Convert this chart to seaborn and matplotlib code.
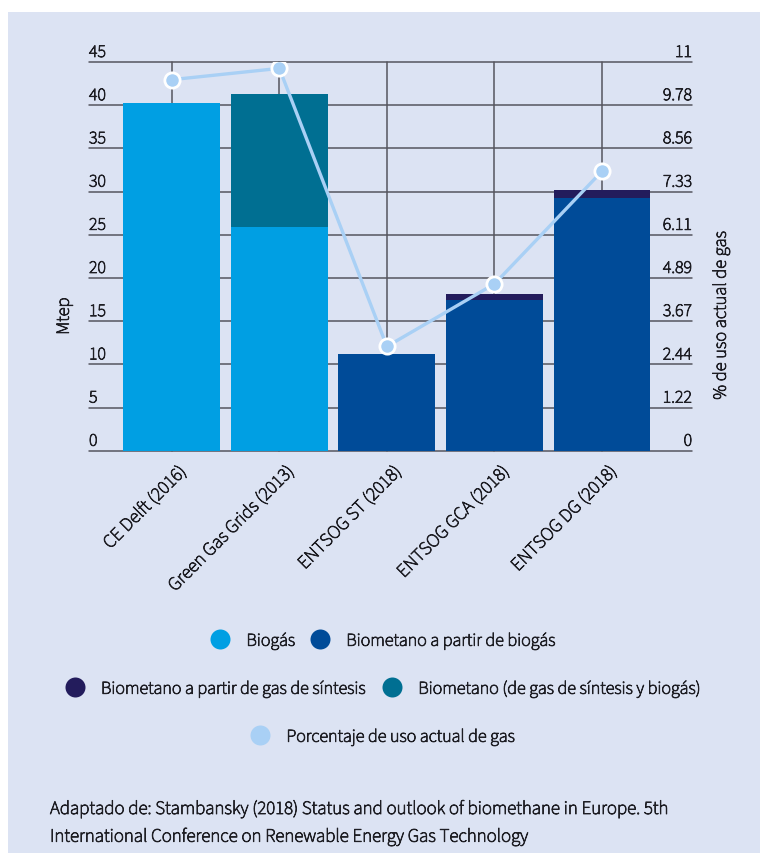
import numpy as np
import pandas as pd
import matplotlib
matplotlib.use("Agg")
import matplotlib.pyplot as plt
import matplotlib.transforms as mtransforms
import matplotlib.patheffects as pe
from matplotlib.lines import Line2D
from matplotlib.patches import Rectangle
import seaborn as sns

# ---- data -------------------------------------------------------------
escenarios = ["CE Delft (2016)", "Green Gas Grids (2013)", "ENTSOG ST (2018)",
              "ENTSOG GCA (2018)", "ENTSOG DG (2018)"]
biogas = [40.2, 25.9, 0.0, 0.0, 0.0]
biometano_biogas = [0.0, 0.0, 11.2, 17.4, 29.3]
biometano_sintesis = [0.0, 0.0, 0.0, 0.75, 0.9]
biometano_mixto = [0.0, 15.45, 0.0, 0.0, 0.0]
porcentaje_uso = [10.5, 10.82, 2.95, 4.72, 7.91]

mtep_ticks = [0, 5, 10, 15, 20, 25, 30, 35, 40, 45]
pct_tick_labels = ["0", "1.22", "2.44", "3.67", "4.89", "6.11", "7.33", "8.56", "9.78", "11"]

series_names = ["Biogás", "Biometano a partir de biogás",
                "Biometano a partir de gas de síntesis",
                "Biometano (de gas de síntesis y biogás)"]
line_name = "Porcentaje de uso actual de gas"

# ---- style ------------------------------------------------------------
C_BIOGAS = "#009fe3"
C_BIOMET = "#004b98"
C_SINT = "#231c5c"
C_MIXTO = "#006f92"
C_LINE = "#a9d0f5"
BG = "#dce3f3"
GRID = "#55555f"
TXT = "#1e1e24"

sns.set_theme(style="white")
plt.rcParams["font.family"] = ["Source Sans 3", "Lato", "DejaVu Sans"]
plt.rcParams["text.color"] = TXT

# slightly heavier strokes for the text
BOLDEN = [pe.withStroke(linewidth=0.6, foreground=TXT)]

W, H = 760, 855
fig = plt.figure(figsize=(W / 100, H / 100), dpi=100)
fig.patch.set_facecolor("white")
fig.add_artist(Rectangle((8 / W, 2 / H), 1 - 8 / W, (H - 14) / H,
                         transform=fig.transFigure, facecolor=BG,
                         edgecolor="none", zorder=-10))

ax = fig.add_axes([89 / W, 404.3 / H, 603 / W, 388.7 / H])
ax.set_facecolor("none")

# ---- stacked bars (drawn as cumulative heights, tallest first) --------
df = pd.DataFrame({"escenario": escenarios,
                   "Biogás": biogas,
                   "Biometano a partir de biogás": biometano_biogas,
                   "Biometano a partir de gas de síntesis": biometano_sintesis,
                   "Biometano (de gas de síntesis y biogás)": biometano_mixto})
cum = df[series_names].cumsum(axis=1)
colors = [C_BIOGAS, C_BIOMET, C_SINT, C_MIXTO]
for name, col in reversed(list(zip(series_names, colors))):
    sns.barplot(x=df["escenario"], y=cum[name], color=col, saturation=1,
                width=0.9, errorbar=None, linewidth=0, ax=ax, zorder=2)

ax.set_ylim(0, 45)
ax.set_yticks(mtep_ticks)
ax.set_yticklabels([])
ax.set_xticks(range(len(escenarios)))
ax.set_xticklabels([])
ax.set_xlabel("")
ax.set_ylabel("")
ax.grid(True, axis="both", color=GRID, linewidth=1.1)
ax.set_axisbelow(True)
for gl in ax.get_xgridlines() + ax.get_ygridlines():
    gl.set_clip_on(False)
for s in ax.spines.values():
    s.set_visible(False)
ax.tick_params(axis="y", length=0)
ax.tick_params(axis="x", length=3, color=GRID, width=1)

# ---- line on secondary axis -------------------------------------------
ax2 = ax.twinx()
sns.lineplot(x=np.arange(len(escenarios)), y=porcentaje_uso, ax=ax2,
             color=C_LINE, linewidth=2.4, marker="o", markersize=11,
             markerfacecolor=C_LINE, markeredgecolor="white",
             markeredgewidth=2.0, zorder=5)
ax2.set_ylim(0, 11)
ax2.set_yticks([])
ax2.set_ylabel("")
ax2.set_xlabel("")
for s in ax2.spines.values():
    s.set_visible(False)
ax.set_xlim(-0.769, 4.836)

# ---- tick labels above the gridlines ----------------------------------
fs = 12.9
left_tr = mtransforms.offset_copy(
    mtransforms.blended_transform_factory(ax.transAxes, ax.transData),
    fig=fig, x=0, y=5, units="dots")
for v in mtep_ticks:
    ax.text(0, v, str(v), transform=left_tr, ha="left", va="baseline",
            fontsize=fs, color=TXT, path_effects=BOLDEN)
right_tr = mtransforms.offset_copy(
    mtransforms.blended_transform_factory(ax2.transAxes, ax2.transData),
    fig=fig, x=0, y=5, units="dots")
for lab in pct_tick_labels:
    ax2.text(1, float(lab), lab, transform=right_tr, ha="right", va="baseline",
             fontsize=fs, color=TXT, path_effects=BOLDEN)

xfs = 13.6
cat_tr = mtransforms.offset_copy(
    mtransforms.blended_transform_factory(ax.transData, ax.transAxes),
    fig=fig, x=6, y=-12, units="dots")
for i, lab in enumerate(escenarios):
    ax.text(i, 0, lab, transform=cat_tr, ha="right", va="top", rotation=45,
            rotation_mode="anchor", fontsize=xfs, color=TXT, path_effects=BOLDEN)

fig.text(64 / W, 1 - 316 / H, "Mtep", rotation=90, ha="center", va="center",
         fontsize=13.3, color=TXT, path_effects=BOLDEN)
fig.text(721 / W, 1 - 315 / H, "% de uso actual de gas", rotation=90,
         ha="center", va="center", fontsize=13.3, color=TXT, path_effects=BOLDEN)

# ---- legend -------------------------------------------------------------
lfs = 13


def handle(c):
    return Line2D([], [], linestyle="none", marker="o", markersize=14.4,
                  markerfacecolor=c, markeredgecolor="none")


rows = [
    ([handle(C_BIOGAS), handle(C_BIOMET)], series_names[:2], 641),
    ([handle(C_SINT), handle(C_MIXTO)], series_names[2:], 689),
    ([handle(C_LINE)], [line_name], 737),
]
for hs, ls, yc in rows:
    leg = fig.legend(hs, ls, loc="center", bbox_to_anchor=(384 / W, 1 - yc / H),
                     ncol=len(hs), frameon=False, handlelength=1.0,
                     handletextpad=0.94, columnspacing=0.89, fontsize=lfs,
                     borderpad=0, borderaxespad=0)
    for t in leg.get_texts():
        t.set_path_effects(BOLDEN)

# ---- source note --------------------------------------------------------
ffs = 13.6
fig.text(50 / W, 1 - 814 / H,
         "Adaptado de: Stambansky (2018) Status and outlook of biomethane in Europe. 5th",
         ha="left", va="baseline", fontsize=ffs, color=TXT, path_effects=BOLDEN)
fig.text(50 / W, 1 - 841.7 / H,
         "International Conference on Renewable Energy Gas Technology",
         ha="left", va="baseline", fontsize=ffs, color=TXT, path_effects=BOLDEN)

fig.savefig("out.png", dpi=100, facecolor=fig.get_facecolor())
